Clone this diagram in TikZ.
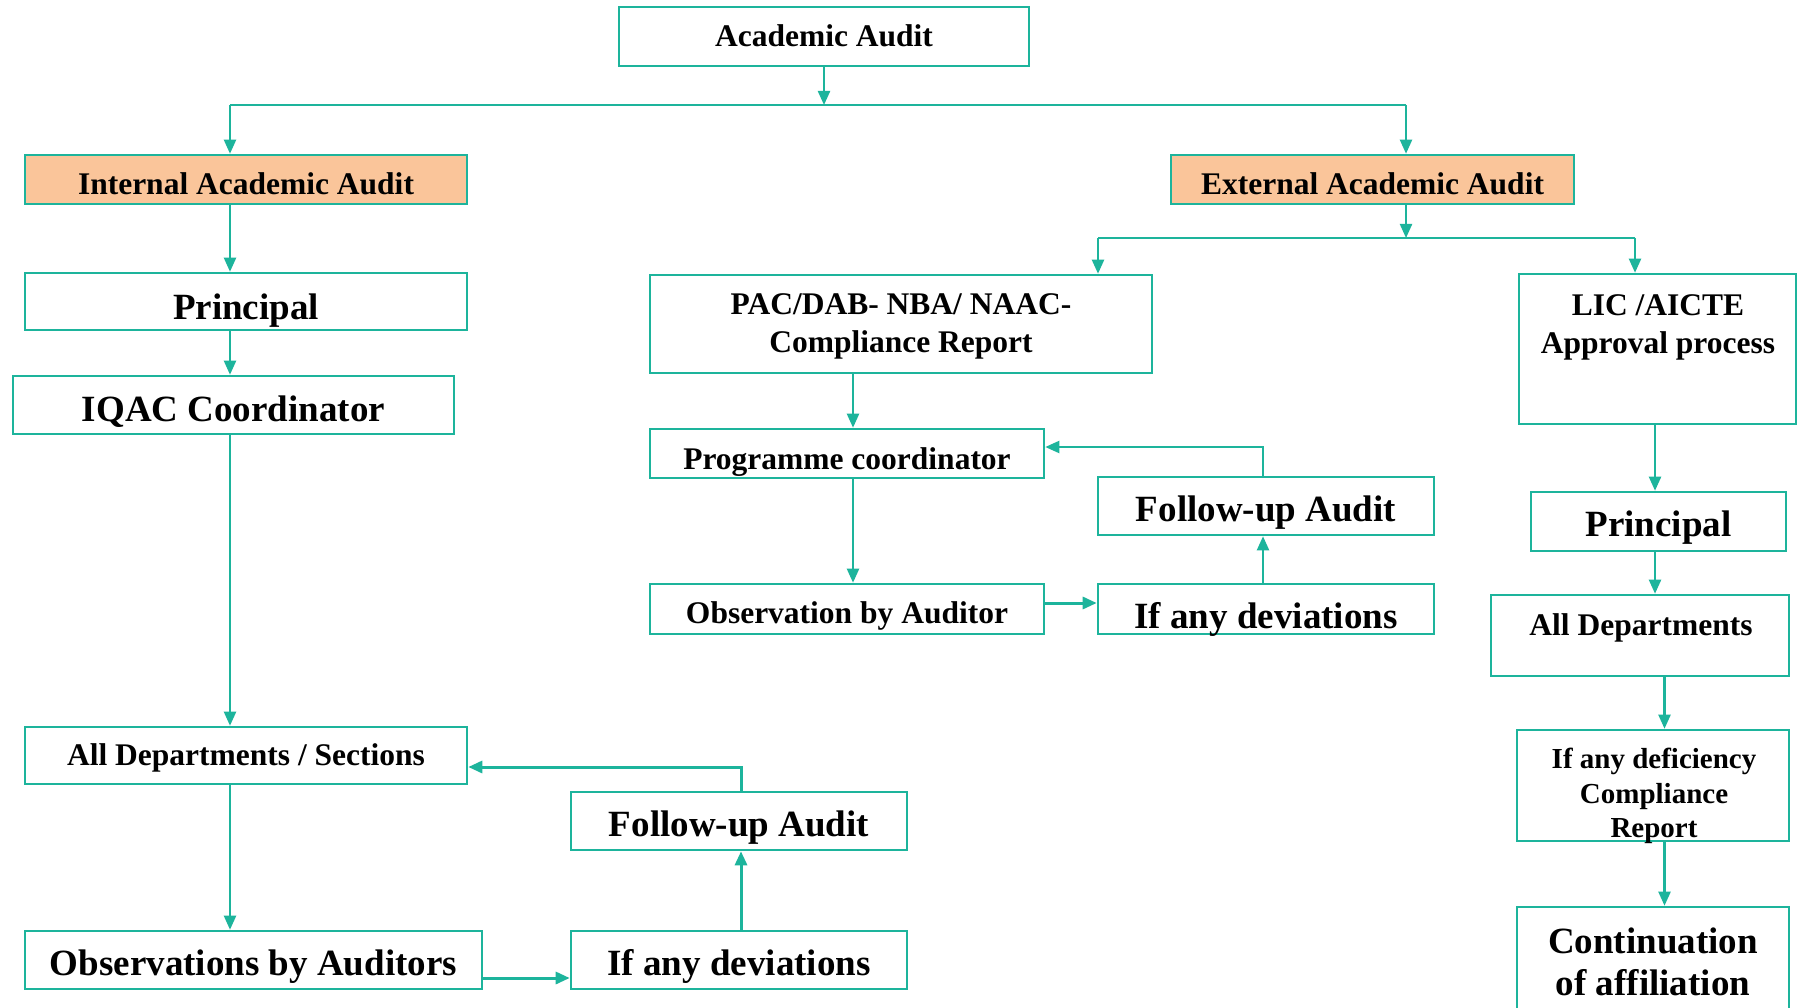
\documentclass[tikz,border=0pt]{standalone}
\usepackage{fontspec}
\setmainfont{Liberation Serif}
\usetikzlibrary{arrows.meta,calc}
\definecolor{tl}{HTML}{1DB49C}
\definecolor{orf}{HTML}{FAC59A}
\begin{document}
\begin{tikzpicture}[x=1pt,y=-1pt,
 rect/.style n args={4}{minimum width={#3-#1}, minimum height={#4-#2}, at={({(#1+#3)/2},{(#2+#4)/2})}},
 box/.style={draw=tl,line width=2.6pt,inner sep=0pt,font=\bfseries\fontsize{31.5}{38}\selectfont,align=center},
 big/.style={font=\bfseries\fontsize{37}{43}\selectfont},
 hl/.style={fill=orf},
 th/.style={text height=#1pt, text depth=0pt},
 txt/.style={inner sep=0pt,font=\bfseries\fontsize{31.5}{38}\selectfont,align=center},
 arr/.style={draw=tl,line width=2.2pt,-{Triangle[length=14pt,width=12pt]}},
 thk/.style={line width=3pt},
 ln/.style={draw=tl,line width=2.2pt}]
\useasboundingbox (0,0) rectangle (1803,1008);
\fill[white] (0,0) rectangle (1803,1008);

% nodes
\node[box,th=21,rect={619}{7}{1029}{66}] (aa) {Academic Audit};
\node[box,hl,th=31,rect={25}{155}{467}{204}] (iaa) {Internal Academic Audit};
\node[box,hl,th=31,rect={1171}{155}{1574}{204}] (eaa) {External Academic Audit};
\node[box,big,th=36,rect={25}{273}{467}{330}] (p1) {Principal};
\node[box,big,th=32,rect={13}{376}{454}{434}] (iqac) {IQAC Coordinator};
\node[box,th=20,rect={25}{727}{467}{784}] (ads) {All Departments / Sections};
\node[box,big,th=30,rect={25}{931}{482}{989}] (oba) {Observations by Auditors};
\node[box,big,th=30,rect={571}{931}{907}{989}] (iad1) {If any deviations};
\node[box,big,th=30,rect={571}{792}{907}{850}] (fua1) {Follow-up Audit};

\node[box,text depth=1pt,rect={650}{275}{1152}{373}] (pac) {PAC/DAB- NBA/ NAAC-\\Compliance Report};
\node[box,th=31,rect={650}{429}{1044}{478}] (pc) {Programme coordinator};
\node[box,th=29,rect={650}{584}{1044}{634}] (oa) {Observation by Auditor};
\node[box,big,th=31,rect={1098}{477}{1434}{535}] (fua2) {Follow-up Audit};
\node[box,big,th=38,rect={1098}{584}{1434}{634}] (iad2) {If any deviations};

\node[box,rect={1519}{274}{1796}{424}] (lic) {};
\node[txt] (lict) at (1658,327) {LIC /AICTE\\Approval process};
\node[box,big,th=30,rect={1531}{492}{1786}{551}] (p2) {Principal};
\node[box,rect={1491}{595}{1789}{676}] (ad) {};
\node[txt] (adt) at (1641,627.5) {All Departments};
\node[box,rect={1517}{730}{1789}{841}] (def) {};
\node[txt,font=\bfseries\fontsize{29}{34.5}\selectfont] (deft) at (1654,796) {If any deficiency\\Compliance\\Report};
\node[box,rect={1517}{907}{1789}{1015}] (cont) {};
\node[txt,font=\bfseries\fontsize{37}{42.5}\selectfont] (contt) at (1653,962) {Continuation\\of affiliation};

% connectors - top
\coordinate (j1) at (824,105);
\coordinate (lx) at (230,105);
\coordinate (rx) at (1406,105);
\draw[arr] (aa.south) -- (j1);
\draw[ln] (lx) -- (rx);
\draw[arr] (lx) -- (lx |- iaa.north);
\draw[arr] (rx) -- (rx |- eaa.north);

% left branch
\draw[arr] (lx |- iaa.south) -- (lx |- p1.north);
\draw[arr] (lx |- p1.south) -- (lx |- iqac.north);
\draw[arr] (lx |- iqac.south) -- (lx |- ads.north);
\draw[arr] (lx |- ads.south) -- (lx |- oba.north);
\coordinate (y1) at (0,978);
\draw[arr,thk] (oba.east |- y1) -- (iad1.west |- y1);
\coordinate (fx1) at (741,0);
\draw[arr,thk] (fx1 |- iad1.north) -- (fx1 |- fua1.south);
\coordinate (y2) at (0,767);
\draw[arr,thk] (fx1 |- fua1.north) -- (fx1 |- y2) -- (ads.east |- y2);

% right branch
\coordinate (j2) at (1406,238);
\coordinate (px) at (1098,238);
\coordinate (qx) at (1635,238);
\draw[arr] (j2 |- eaa.south) -- (j2);
\draw[ln] (px) -- (qx);
\draw[arr] (px) -- (px |- pac.north);
\draw[arr] (qx) -- (qx |- lic.north);
\coordinate (cx) at (853,0);
\draw[arr] (cx |- pac.south) -- (cx |- pc.north);
\draw[arr] (cx |- pc.south) -- (cx |- oa.north);
\coordinate (y3) at (0,603);
\draw[arr,thk] (oa.east |- y3) -- (iad2.west |- y3);
\coordinate (fx) at (1263,0);
\draw[arr] (fx |- iad2.north) -- (fx |- fua2.south);
\coordinate (y4) at (0,447);
\draw[arr] (fx |- fua2.north) -- (fx |- y4) -- (pc.east |- y4);
\coordinate (rx1) at (1655,0);
\draw[arr] (rx1 |- lic.south) -- (rx1 |- p2.north);
\draw[arr] (rx1 |- p2.south) -- (rx1 |- ad.north);
\coordinate (rx2) at (1664.5,0);
\draw[arr] (rx2 |- ad.south) -- (rx2 |- def.north);
\draw[arr] (rx2 |- def.south) -- (rx2 |- cont.north);
\end{tikzpicture}
\end{document}
